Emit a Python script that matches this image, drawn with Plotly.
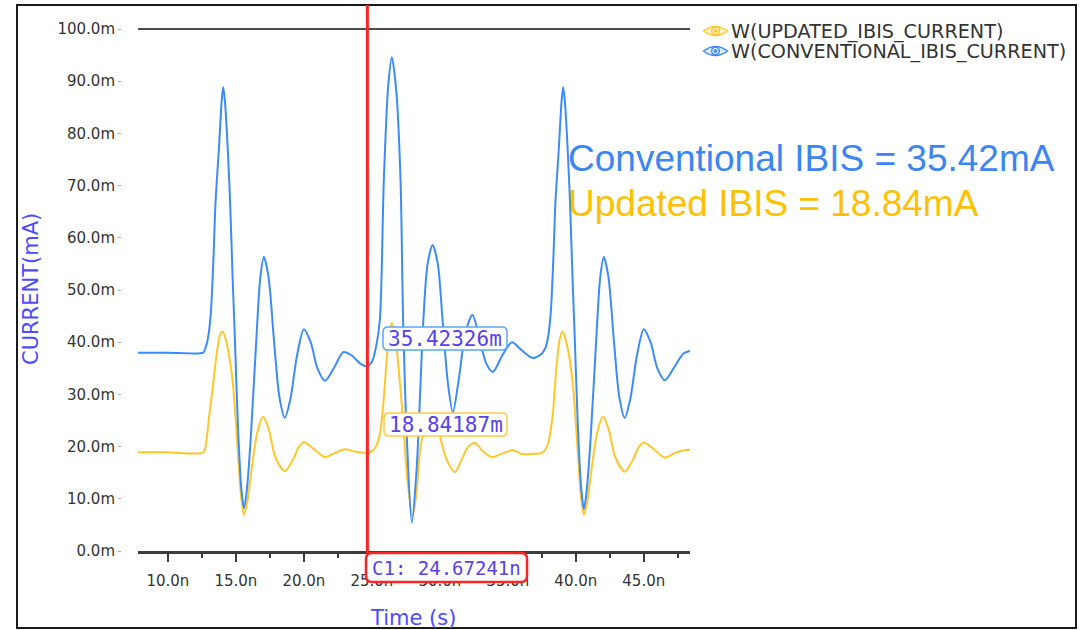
import plotly.graph_objects as go

# ---------------- data ----------------
t_conv = [7.8, 10.0, 12.6, 12.75, 12.92, 13.14, 13.35, 13.5, 13.75, 13.95, 14.07, 14.2, 14.43, 14.6, 14.75,
          14.93, 15.15, 15.4, 15.6, 15.8, 16.1, 16.5, 16.8, 17.06, 17.4, 17.8, 18.2, 18.6, 19.0, 19.5, 20.0,
          20.5, 21.0, 21.55, 22.2, 22.9, 23.5, 24.2, 24.67, 25.0, 25.3, 25.59, 25.88, 26.2, 26.47, 26.8,
          27.11, 27.3, 27.6, 27.94, 28.3, 28.79, 29.1, 29.47, 29.85, 30.2, 30.6, 30.96, 31.4, 31.9, 32.4,
          32.9, 33.4, 33.9, 34.6, 35.3, 36.0, 36.8, 37.4, 37.75, 37.92, 38.14, 38.35, 38.5, 38.75, 38.95,
          39.07, 39.2, 39.43, 39.6, 39.75, 39.93, 40.15, 40.4, 40.6, 40.8, 41.1, 41.5, 41.8, 42.06, 42.4,
          42.8, 43.2, 43.6, 44.0, 44.5, 45.0, 45.5, 46.0, 46.55, 47.2, 47.9, 48.4]
conventional_mA = [38.0, 38.0, 38.0, 38.8, 40.4, 45.0, 56.0, 66.7, 77.0, 86.0, 88.9, 86.0, 75.5, 65.0, 53.0,
                   40.4, 24.0, 12.0, 8.2, 11.5, 22.0, 40.4, 52.5, 56.3, 52.5, 40.4, 29.5, 25.5, 29.0, 37.5, 42.5,
                   40.0, 35.0, 32.6, 35.0, 38.1, 37.5, 35.8, 35.42, 36.2, 39.0, 44.3, 71.0, 89.0, 94.6, 88.0,
                   71.0, 44.3, 20.0, 5.4, 16.0, 44.3, 55.0, 58.6, 55.0, 44.3, 32.0, 26.6, 33.0, 42.0, 45.2,
                   41.0, 36.0, 34.3, 37.5, 40.0, 38.5, 37.0, 37.6, 38.8, 40.4, 45.0, 56.0, 66.7, 77.0, 86.0,
                   88.9, 86.0, 75.5, 65.0, 53.0, 40.4, 24.0, 12.0, 8.0, 11.5, 22.0, 40.4, 52.5, 56.3, 52.5,
                   40.4, 29.5, 25.5, 29.0, 37.5, 42.5, 40.0, 35.0, 32.7, 35.0, 37.8, 38.3]

t_upd = [7.8, 10.0, 12.6, 12.8, 13.0, 13.3, 13.6, 13.85, 14.04, 14.25, 14.5, 14.8, 15.15, 15.4, 15.6, 15.85,
         16.2, 16.6, 17.0, 17.4, 17.9, 18.6, 19.2, 19.6, 20.0, 20.6, 21.55, 22.3, 23.0, 23.8, 24.67, 25.0,
         25.3, 25.6, 25.9, 26.1, 26.3, 26.47, 26.7, 26.9, 27.1, 27.3, 27.6, 28.0, 28.3, 28.55, 28.9, 29.4,
         29.85, 30.05, 30.5, 31.1, 31.6, 32.1, 32.6, 33.2, 33.8, 34.6, 35.4, 36.0, 36.8, 37.5, 37.8, 38.0,
         38.3, 38.6, 38.85, 39.04, 39.25, 39.5, 39.8, 40.15, 40.4, 40.6, 40.85, 41.2, 41.6, 42.0, 42.4, 42.9,
         43.6, 44.2, 44.6, 45.0, 45.6, 46.55, 47.3, 48.0, 48.4]
updated_mA = [18.9, 18.9, 18.9, 20.5, 25.0, 31.4, 38.0, 41.5, 42.0, 40.5, 37.5, 31.5, 18.8, 10.0, 6.9, 9.5,
              16.5, 23.0, 25.7, 23.5, 18.0, 15.3, 17.5, 19.8, 20.9, 19.8, 18.0, 18.8, 19.5, 19.0, 18.84, 19.1,
              20.0, 22.5, 30.0, 37.0, 42.0, 43.7, 41.5, 37.0, 31.0, 25.0, 14.0, 6.6, 11.5, 19.3, 23.5, 25.3,
              23.5, 21.6, 17.5, 15.1, 17.5, 20.0, 20.7, 19.0, 18.0, 18.7, 19.3, 18.6, 18.6, 18.8, 19.6, 21.0,
              26.0, 36.0, 41.0, 42.0, 40.5, 37.5, 31.5, 18.8, 10.0, 6.9, 9.5, 16.5, 23.0, 25.7, 23.5, 18.0,
              15.2, 17.5, 19.8, 20.8, 19.8, 17.9, 18.8, 19.3, 19.4]

x_tick_vals = [10, 15, 20, 25, 30, 35, 40, 45]
x_tick_text = ["10.0n", "15.0n", "20.0n", "25.0n", "30.0n", "35.0n", "40.0n", "45.0n"]
x_minor_vals = [12.5, 17.5, 22.5, 27.5, 32.5, 37.5, 42.5, 47.5]
y_tick_vals = [0, 10, 20, 30, 40, 50, 60, 70, 80, 90, 100]
y_tick_text = ["0.0m", "10.0m", "20.0m", "30.0m", "40.0m", "50.0m", "60.0m", "70.0m", "80.0m", "90.0m", "100.0m"]

x_range = [7.8, 48.4]
y_range = [0, 100]
cursor_t = 24.67241
cursor_conv = 35.42326
cursor_upd = 18.84187
series_names = ["W(UPDATED_IBIS_CURRENT)", "W(CONVENTIONAL_IBIS_CURRENT)"]

assert len(t_conv) == len(conventional_mA)
assert len(t_upd) == len(updated_mA)

# ---------------- layout geometry ----------------
W, H = 1089, 630
ML, MR, MT, MB = 121, 399, 29, 79
PW = W - ML - MR
PH = H - MT - MB
XDOM0 = 17 / PW

BLUE = "#3a8cf7"
YELLOW = "#ffc72a"
LABEL = "#5a42e8"
AXTITLE = "#4b4bff"


def px(x):
    return (x - ML) / PW


def py(y):
    return (H - MB - y) / PH


def data_px(t):
    # paper x of a data time value (through the axis range)
    return XDOM0 + (t - x_range[0]) / (x_range[1] - x_range[0]) * (1 - XDOM0)


def rrect(x0, y0, x1, y1, r):
    pts = []
    pts.append(f"M {px(x0 + r)},{py(y0)}")
    pts.append(f"L {px(x1 - r)},{py(y0)}")
    pts.append(f"Q {px(x1)},{py(y0)} {px(x1)},{py(y0 + r)}")
    pts.append(f"L {px(x1)},{py(y1 - r)}")
    pts.append(f"Q {px(x1)},{py(y1)} {px(x1 - r)},{py(y1)}")
    pts.append(f"L {px(x0 + r)},{py(y1)}")
    pts.append(f"Q {px(x0)},{py(y1)} {px(x0)},{py(y1 - r)}")
    pts.append(f"L {px(x0)},{py(y0 + r)}")
    pts.append(f"Q {px(x0)},{py(y0)} {px(x0 + r)},{py(y0)} Z")
    return " ".join(pts)


def eye(cx, cy, color, fill):
    w, h = 12, 9
    p = (f"M {px(cx - w)},{py(cy)} Q {px(cx)},{py(cy - h)} {px(cx + w)},{py(cy)} "
         f"Q {px(cx)},{py(cy + h)} {px(cx - w)},{py(cy)} Z")
    return [
        dict(type="path", xref="paper", yref="paper", path=p, line=dict(color=color, width=1.5),
             fillcolor=fill, layer="above"),
        dict(type="circle", xref="paper", yref="paper", x0=px(cx - 3.8), x1=px(cx + 3.8),
             y0=py(cy + 3.8), y1=py(cy - 3.8), line=dict(color=color, width=1.5), fillcolor="white",
             layer="above"),
        dict(type="circle", xref="paper", yref="paper", x0=px(cx - 1.6), x1=px(cx + 1.6),
             y0=py(cy + 1.6), y1=py(cy - 1.6), line=dict(color=color, width=1), fillcolor=color,
             layer="above"),
    ]


fig = go.Figure()
fig.add_trace(go.Scatter(x=t_upd, y=updated_mA, mode="lines", name=series_names[0],
                         line=dict(color=YELLOW, width=2, shape="spline", smoothing=0.8)))
fig.add_trace(go.Scatter(x=t_conv, y=conventional_mA, mode="lines", name=series_names[1],
                         line=dict(color=BLUE, width=2, shape="spline", smoothing=0.8)))

shapes = []
# outer frame
shapes.append(dict(type="rect", xref="paper", yref="paper", x0=px(17), x1=px(1076), y0=py(628), y1=py(5),
                   line=dict(color="#1a1a1a", width=2), layer="above"))
# 100m line
shapes.append(dict(type="line", xref="paper", yref="paper", x0=data_px(x_range[0]), x1=data_px(x_range[1]),
                   y0=1, y1=1, line=dict(color="#111", width=1.5), layer="above"))
# cursor line
cx_paper = data_px(cursor_t)
shapes.append(dict(type="line", xref="paper", yref="paper", x0=cx_paper, x1=cx_paper, y0=py(553), y1=py(5),
                   line=dict(color="#ff2424", width=3), layer="above"))
# value label boxes
shapes.append(dict(type="path", xref="paper", yref="paper", path=rrect(383, 327, 507, 350, 5),
                   line=dict(color="#5aa6ff", width=1.5), fillcolor="white", layer="above"))
shapes.append(dict(type="path", xref="paper", yref="paper", path=rrect(384, 413, 507, 436, 5),
                   line=dict(color="#ffcb45", width=1.5), fillcolor="white", layer="above"))
# cursor label box
shapes.append(dict(type="path", xref="paper", yref="paper", path=rrect(366, 553, 527, 582, 6),
                   line=dict(color="#ff2424", width=2.5), fillcolor="white", layer="above"))
# legend eyes
shapes += eye(715.5, 31, YELLOW, "#fff3c4")
shapes += eye(715.5, 51, BLUE, "#dbeaff")

annotations = []
mono = "DejaVu Sans Mono"
annotations.append(dict(xref="paper", yref="paper", x=px(445), y=py(338.5), text=f"{cursor_conv:.5f}m",
                        showarrow=False, xanchor="center", yanchor="middle",
                        font=dict(family=mono, size=21, color=LABEL)))
annotations.append(dict(xref="paper", yref="paper", x=px(445.5), y=py(424.5), text=f"{cursor_upd:.5f}m",
                        showarrow=False, xanchor="center", yanchor="middle",
                        font=dict(family=mono, size=21, color=LABEL)))
annotations.append(dict(xref="paper", yref="paper", x=px(446.5), y=py(567.5), text=f"C1: {cursor_t:.5f}n",
                        showarrow=False, xanchor="center", yanchor="middle",
                        font=dict(family=mono, size=19, color=LABEL)))
# legend texts
for i, (name, yy) in enumerate(zip(series_names, [31, 51])):
    annotations.append(dict(xref="paper", yref="paper", x=px(729), y=py(yy), text=name, showarrow=False,
                            xanchor="left", yanchor="middle",
                            font=dict(family="DejaVu Sans", size=19.2, color="#333333")))
# big result texts
annotations.append(dict(xref="paper", yref="paper", x=px(566), y=py(158), text=f"Conventional IBIS = {cursor_conv:.2f}mA",
                        showarrow=False, xanchor="left", yanchor="middle",
                        font=dict(family="Liberation Sans", size=37, color="#3b86f0")))
annotations.append(dict(xref="paper", yref="paper", x=px(566), y=py(203), text=f"Updated IBIS = {cursor_upd:.2f}mA",
                        showarrow=False, xanchor="left", yanchor="middle",
                        font=dict(family="Liberation Sans", size=37, color="#ffc000")))
# axis titles
annotations.append(dict(xref="paper", yref="paper", x=px(31), y=py(289), text="CURRENT(mA)", showarrow=False,
                        textangle=-90, xanchor="center", yanchor="middle",
                        font=dict(family="DejaVu Sans", size=21, color=AXTITLE)))
annotations.append(dict(xref="paper", yref="paper", x=px(413), y=py(618), text="Time (s)", showarrow=False,
                        xanchor="center", yanchor="middle",
                        font=dict(family="DejaVu Sans", size=21, color=AXTITLE)))

fig.update_layout(
    width=W, height=H,
    margin=dict(l=ML, r=MR, t=MT, b=MB),
    paper_bgcolor="white", plot_bgcolor="white",
    showlegend=False,
    shapes=shapes,
    annotations=annotations,
    xaxis=dict(domain=[XDOM0, 1], range=x_range, anchor="y", showgrid=False, zeroline=False,
               showline=True, linecolor="#3d3d3d", linewidth=3,
               ticks="outside", ticklen=8, tickwidth=1.5, tickcolor="#3d3d3d",
               tickvals=x_tick_vals, ticktext=x_tick_text, ticklabelstandoff=6,
               minor=dict(ticks="outside", ticklen=4, tickwidth=1.5, tickcolor="#3d3d3d",
                          tickvals=x_minor_vals),
               tickfont=dict(family="DejaVu Sans", size=15, color="#333333")),
    yaxis=dict(range=y_range, anchor="free", position=0, showgrid=False, zeroline=False, showline=False,
               ticks="outside", ticklen=3, tickwidth=1, tickcolor="#aaaaaa",
               tickvals=y_tick_vals, ticktext=y_tick_text,
               tickfont=dict(family="DejaVu Sans", size=15, color="#333333")),
)

fig.write_html("out.html")
